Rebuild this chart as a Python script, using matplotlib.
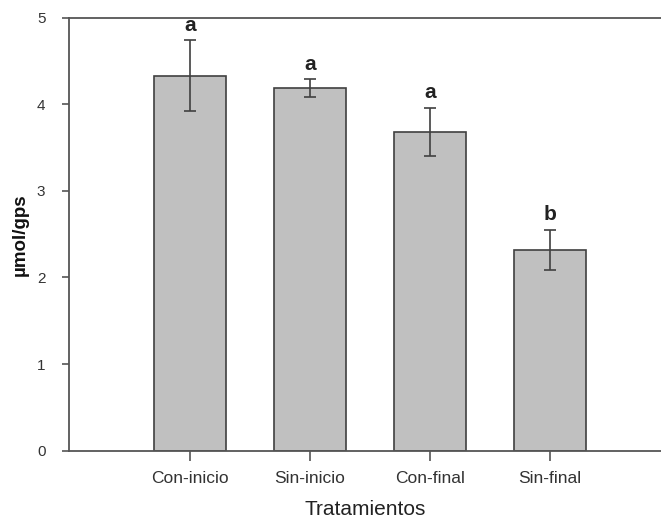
import numpy as np
import matplotlib
matplotlib.use('Agg')
from matplotlib import pyplot as plt

tratamientos = ['Con-inicio', 'Sin-inicio', 'Con-final', 'Sin-final']
medias = [4.33, 4.19, 3.68, 2.32]
errores = [0.41, 0.10, 0.28, 0.23]
letras = ['a', 'a', 'a', 'b']

plt.rcParams['font.family'] = ['Liberation Sans', 'DejaVu Sans']

fig = plt.figure(figsize=(6.61, 5.21), dpi=100)
ax = fig.add_axes([0.1044, 0.1353, 0.8956, 0.8302])

x = np.arange(len(tratamientos))
ax.bar(x, medias, width=0.6, color='#c0c0c0', edgecolor='#404040', linewidth=1.2, zorder=2)
ax.errorbar(x, medias, yerr=errores, fmt='none', ecolor='#404040', elinewidth=1.2,
            capsize=4.5, capthick=1.2, zorder=3)

# letras de significancia sobre las barras
for xi, m, e, l in zip(x, medias, errores, letras):
    ax.annotate(l, (xi, m + e), xytext=(0, 4), textcoords='offset points',
                ha='center', va='bottom', fontsize=15, fontweight='bold', color='#222222')

ax.set_xlim(-1.01, 3.925)
ax.set_ylim(0, 5)
ax.set_yticks(range(6))
ax.set_xticks(x)
ax.set_xticklabels(tratamientos, fontsize=12.5, color='#333333')
ax.tick_params(axis='y', length=5, width=1.2, color='#555555', labelsize=11, labelcolor='#333333', pad=12)
ax.tick_params(axis='x', length=7, width=1.2, color='#555555', pad=8)

ax.spines['right'].set_visible(False)
for s in ['left', 'top', 'bottom']:
    ax.spines[s].set_color('#555555')
    ax.spines[s].set_linewidth(1.3)

ax.set_ylabel('µmol/gps', fontsize=13.5, fontweight='bold', color='#111111', labelpad=6)
ax.set_xlabel('Tratamientos', fontsize=15, color='#222222', labelpad=10)

fig.savefig('out.png', dpi=100)
